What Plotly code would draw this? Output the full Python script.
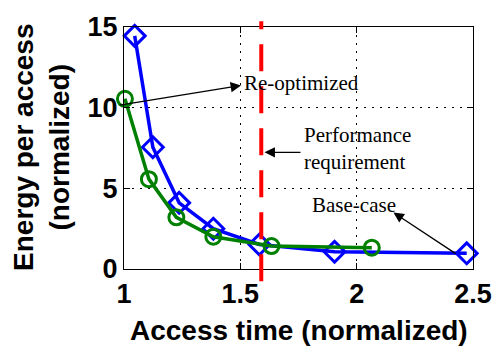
import plotly.graph_objects as go

# Base-case design (blue diamonds)
base_x = [1.046, 1.124, 1.237, 1.384, 1.582, 1.905, 2.473]
base_y = [14.45, 7.55, 4.1, 2.5, 1.52, 1.07, 0.97]

# Re-optimized design (green circles)
reopt_x = [1.004, 1.107, 1.225, 1.384, 1.634, 2.065]
reopt_y = [10.55, 5.57, 3.2, 2.0, 1.42, 1.32]

# Performance requirement (access time limit)
perf_limit = 1.59

x_ticks = [1, 1.5, 2, 2.5]
x_tick_text = ["1", "1.5", "2", "2.5"]
y_ticks = [0, 5, 10, 15]

sans_bold = dict(family="Liberation Sans, Arial, sans-serif", size=27, color="black", weight="bold")
serif = dict(family="Liberation Serif, Times New Roman, serif", size=21, color="black")

fig = go.Figure()

fig.add_trace(go.Scatter(
    x=base_x, y=base_y, mode="lines+markers",
    line=dict(color="#0000ff", width=3.5),
    marker=dict(symbol="diamond-open", size=16, color="#0000ff", line=dict(width=3, color="#0000ff")),
    cliponaxis=False, showlegend=False,
))
fig.add_trace(go.Scatter(
    x=reopt_x, y=reopt_y, mode="lines+markers",
    line=dict(color="#008000", width=3.5),
    marker=dict(symbol="circle-open", size=15, color="#008000", line=dict(width=3, color="#008000")),
    cliponaxis=False, showlegend=False,
))

# Red dashed requirement line, extending slightly past the frame
fig.add_shape(type="line", xref="x", yref="paper", x0=perf_limit, x1=perf_limit,
              y0=-0.051, y1=1.024, line=dict(color="#ff0000", width=4, dash="27px,15px"))

axis_common = dict(
    showline=True, linecolor="black", linewidth=1.2, mirror="ticks",
    ticks="inside", ticklen=6, tickcolor="black", tickwidth=1,
    showgrid=True, gridcolor="black", gridwidth=1.3, griddash="2px,6px",
    zeroline=False, tickfont=sans_bold,
)

fig.update_xaxes(range=[1, 2.5], tickvals=x_ticks, ticktext=x_tick_text, **axis_common)
fig.update_yaxes(range=[0, 15], tickvals=y_ticks, **axis_common)

annotations = [
    # text labels
    dict(x=1.505, y=11.5, text="Re-optimized", showarrow=False, xanchor="left", yanchor="middle", font=serif),
    dict(x=1.765, y=7.5, text="Performance<br>requirement", showarrow=False, xanchor="left",
         yanchor="middle", align="left", font=serif),
    dict(x=1.798, y=3.97, text="Base-case", showarrow=False, xanchor="left", yanchor="middle", font=serif),
    # arrows
    dict(x=1.503, y=11.38, ax=0.975, ay=10.14, axref="x", ayref="y", text="", showarrow=True,
         arrowhead=2, arrowsize=1.6, arrowwidth=1.3, arrowcolor="black"),
    dict(x=1.604, y=7.23, ax=1.765, ay=7.23, axref="x", ayref="y", text="", showarrow=True,
         arrowhead=2, arrowsize=1.6, arrowwidth=1.3, arrowcolor="black"),
    dict(x=2.158, y=3.5, ax=2.432, ay=0.89, axref="x", ayref="y", text="", showarrow=True,
         arrowhead=2, arrowsize=1.6, arrowwidth=1.3, arrowcolor="black"),
    # axis titles
    dict(xref="paper", yref="paper", x=0.5, y=-0.253, text="Access time (normalized)",
         showarrow=False, xanchor="center", yanchor="middle", font=dict(sans_bold, size=28)),
    dict(xref="paper", yref="paper", x=-0.2366, y=0.506, text="Energy per access<br>(normalized)",
         showarrow=False, xanchor="center", yanchor="middle", textangle=-90,
         font=dict(sans_bold, size=28)),
]
fig.update_layout(
    annotations=annotations,
    width=504, height=349,
    margin=dict(l=124, r=25, t=16, b=80),
    paper_bgcolor="white", plot_bgcolor="white",
)

fig.write_html("out.html")
